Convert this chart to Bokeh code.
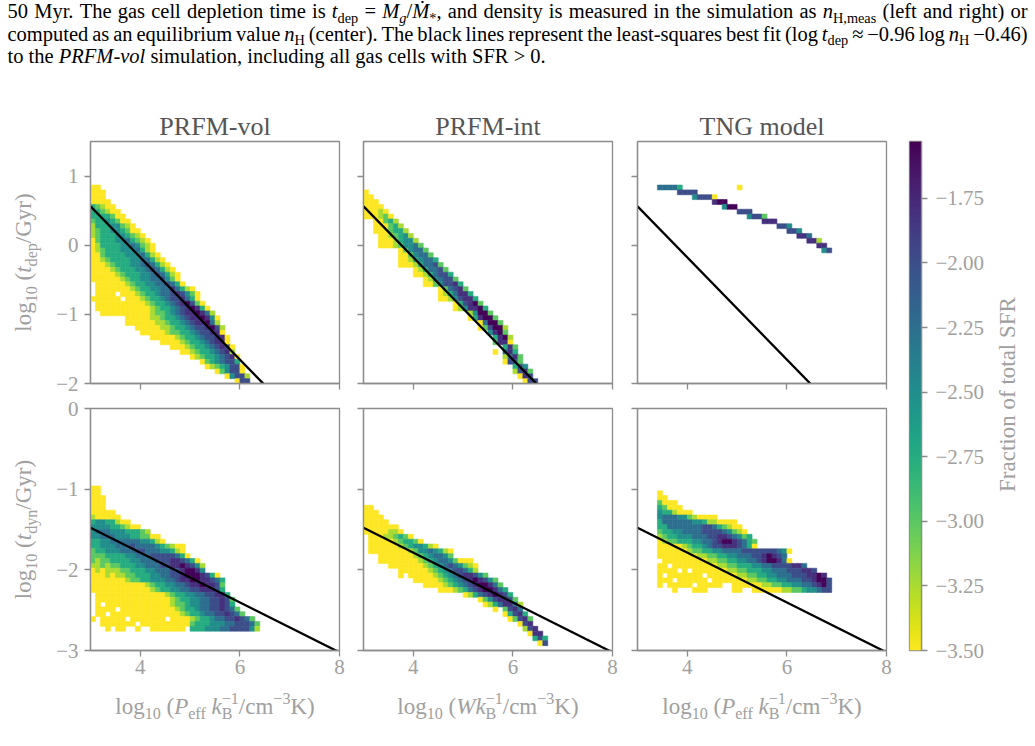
import os
import glob
import subprocess

import numpy as np
from bokeh.plotting import figure
from bokeh.layouts import row, column
from bokeh.models import Range1d, FixedTicker, ColumnDataSource, LinearColorMapper
from bokeh.palettes import Viridis256
from bokeh.core.properties import value
from bokeh.embed import file_html
from bokeh.resources import INLINE

# ---------------------------------------------------------------- data
X_RANGE = (3.0, 8.0)
TDEP_RANGE = (-2.0, 1.5)
TDYN_RANGE = (-3.0, 0.0)
N_BINS = 50

X_TICKS = [4, 6, 8]
X_TICK_LABELS = ["4", "6", "8"]
TDEP_TICKS = [-2, -1, 0, 1]
TDEP_TICK_LABELS = ["\u22122", "\u22121", "0", "1"]
TDYN_TICKS = [-3, -2, -1, 0]
TDYN_TICK_LABELS = ["\u22123", "\u22122", "\u22121", "0"]
CBAR_TICKS = [-3.5, -3.25, -3.0, -2.75, -2.5, -2.25, -2.0, -1.75]
CBAR_TICK_LABELS = ["\u22123.50", "\u22123.25", "\u22123.00", "\u22122.75",
                    "\u22122.50", "\u22122.25", "\u22122.00", "\u22121.75"]
SFR_LOW, SFR_HIGH = -3.5, -1.53

PANEL_TITLES = ["PRFM-vol", "PRFM-int", "TNG model"]

# log10 of the SFR fraction for each level code used in the histogram rows
LEVEL_VALUES = {"0": -3.5, "1": -3.25, "2": -3.0, "3": -2.75, "4": -2.5,
                "5": -2.25, "6": -2.0, "7": -1.8, "8": -1.55}

# least-squares fit lines: (slope, intercept)
FIT_TDEP = (-0.739, 2.78)
FIT_TDYN = (-0.309, -0.551)

# 2D histograms: (row from top, first column, level codes; '.' = empty bin)
HIST_VOL_TDEP = [
    (9, 0, "00"), (10, 0, "000"), (11, 0, "000"), (12, 0, "0000"),
    (13, 0, "32100"), (14, 0, "332100"), (15, 0, "3333200"),
    (16, 0, "23343200"), (17, 0, "133344210"), (18, 0, "1233443200"),
    (19, 0, "12333443210"), (20, 0, "023334453210"),
    (21, 0, "0133334454210"), (22, 0, "0123334445310"),
    (23, 0, "00233334445310"), (24, 0, "001233334455310"),
    (25, 0, "0001233344565310"), (26, 0, "00001233344565310"),
    (27, 0, "000001233344565310"), (28, 0, "000000123344556420"),
    (29, 1, "000000123344556530"), (30, 1, "00000001233445575310"),
    (31, 1, "0000.0001233455676420"), (32, 0, "000000.000123345667530"),
    (33, 1, "0000000000123345678620"), (34, 1, "00000000000123345678730"),
    (35, 2, "00000000001223456778751"), (36, 7, "0000011233456778740"),
    (37, 7, "0000001123345677851"), (38, 9, "000001123345667861"),
    (39, 10, "00000122334566770"), (40, 12, "0000012334566770"),
    (41, 14, "00001233456770"), (42, 16, "0001233456760"),
    (43, 18, "00123345671"), (44, 20, "0123345670"),
    (45, 22, "02345663"), (46, 23, "01234660"), (47, 25, "024660"),
    (48, 27, "04661"), (49, 29, "066"),
]

HIST_INT_TDEP = [
    (10, 0, "0"), (11, 0, "00"), (12, 0, "000"), (13, 0, "0000"),
    (14, 0, "00010"), (15, 0, "000120"), (16, 2, "00231"),
    (17, 2, "000231"), (18, 2, "0002331"), (19, 3, "0012341"),
    (20, 3, "00013441"), (21, 3, "000124452"), (22, 7, "024552"),
    (23, 7, "0024552"), (24, 7, "00134553"), (25, 7, "000135562"),
    (26, 10, "0135562"), (27, 10, "00135663"), (28, 12, "0145662"),
    (29, 12, "00246673"), (30, 15, "025672"), (31, 15, "0135773"),
    (32, 15, "00146773"), (33, 18, "036782"), (34, 18, "0147783"),
    (35, 21, "14882"), (36, 21, "037882"), (37, 23, "05882"),
    (38, 23, "026881"), (39, 25, "4782"), (40, 26, "3781"),
    (41, 26, "2770"), (42, 28, "372"), (43, 26, "0.573"),
    (44, 28, "1572"), (45, 28, "0662"), (46, 30, "364"),
    (47, 30, "1672"), (48, 31, "076"), (49, 32, "066"),
]

HIST_TNG_TDEP = [
    (9, 4, "55553"), (9, 20, "0"), (10, 8, "6666"), (11, 11, "46660"),
    (12, 15, "788"), (13, 17, "488"), (14, 20, "666"), (15, 22, "4662"),
    (16, 25, "777"), (17, 28, "664"), (18, 30, "664"), (19, 32, "775"),
    (20, 34, "771"), (21, 36, "77"), (22, 37, "46"),
]

HIST_VOL_TDYN = [
    (16, 0, "00"), (17, 0, "00"), (18, 0, "000"), (19, 0, "000"),
    (20, 0, "000"), (21, 0, "00000"), (22, 0, "100000"),
    (23, 0, "34433100"), (24, 0, "4444332100"), (25, 0, "455544433321"),
    (26, 0, "44555444332200"), (27, 0, "334455555544310"),
    (28, 0, "3344455565555432100"), (29, 0, "2334445556655544310"),
    (30, 0, "22233334455566666530"), (31, 0, "2122333344555666776530"),
    (32, 0, "11212233344555667787641"), (33, 0, "01011122333445556678874"),
    (34, 0, "00010112233344556678887630"),
    (35, 0, "000000012233444556778877653"),
    (36, 0, "000000000001233445567787762"),
    (37, 0, "000000000000123344556677763"),
    (38, 1, "000000000000001233445566773"),
    (39, 1, "0000000000000001233445566762"),
    (40, 1, "0.00000000000001223445566763"),
    (41, 1, "0000.000000000001233455667652"),
    (42, 1, "00.000000000000001233455667652"),
    (43, 0, "0.00000.0000000.00001233455667652"),
    (44, 2, "0000000.000000000023334445566652"),
    (45, 3, "0.00..0..0000000.33344455666641"),
]

HIST_INT_TDYN = [
    (20, 0, "00"), (21, 0, "000"), (22, 0, "0000"), (23, 0, "00000"),
    (24, 0, "0000000"), (25, 0, "00000110"), (26, 1, "000112320"),
    (27, 1, "00000123320"), (28, 1, "00000012344310"),
    (29, 1, "00000000124454310"), (30, 3, "000000012345542"),
    (31, 3, "0000000012345542000"), (32, 5, "000000012345654210"),
    (33, 7, "0000001234566531"), (34, 7, "0.0000012345677642"),
    (35, 10, "00000123456787642"), (36, 12, "0000123456788752"),
    (37, 15, "00012356788753"), (38, 20, "0135678763"),
    (39, 23, "02467762"), (40, 24, "01357751"), (41, 26, "0.2675"),
    (42, 28, "03673"), (43, 29, "02672"), (44, 31, "067"),
    (45, 32, "167"), (46, 33, "077"), (47, 34, "363"), (48, 35, "06"),
]

HIST_TNG_TDYN = [
    (17, 4, "0"), (18, 4, "00"), (19, 4, "2000"), (20, 4, "32000"),
    (21, 4, "4331000"), (22, 4, "455544210000"),
    (23, 4, "3555555443110000"), (24, 4, "33555555566532100"),
    (25, 4, "233445555666654210"), (26, 4, "1233444555667765423"),
    (27, 4, "01223334455678876532"), (28, 4, "00000123345667776530"),
    (29, 4, "000000122334455556666666540"),
    (30, 4, "00000000112233445556678765"),
    (31, 4, ".00000000011223344556788750"),
    (32, 4, "00.000000000112233344556666775"),
    (33, 4, "0000.0.0000000112233344555666776"),
    (34, 4, "0.0000000.000000112233445556667787"),
    (35, 4, "000.000000.000000011223344555667886"),
    (36, 4, "0.00000.00000..00000011223344556786"),
    (37, 4, "...0...000.....00..0000001122344566"),
]

# ---------------------------------------------------------------- style
FONT = "Liberation Serif"
SPINE = "#8c8c8c"
TICK_TEXT = "#a0a0a0"
TITLE_TEXT = "#555555"
TICK_FONT = "21px"
LABEL_SIZE = 23
CBAR_LABEL_SIZE = 23
CAP_SIZE = 20.5
# horizontal glyphs use an alphabetic baseline that sits a little low: lift (em)
BASELINE_LIFT = 0.27
# rotated glyphs are centred; centre of the em box above the baseline (em)
MIDDLE_ABOVE_BASE = 0.33

# page geometry (px)
PAGE_W = 1035
CAPTION_H = 70
MID_H = 620
XLAB_H = 56
YLAB_W = 45
FRAME_W, FRAME_H = 249, 242
TOP_H = (71, 12)
BOT_H = (13, 40)
COLS = [(YLAB_W, 12), (12, 13), (12, 12)]
FRAMES_TOP = CAPTION_H + TOP_H[0]          # page y of the upper frame edge
FRAMES_BOTTOM = CAPTION_H + MID_H - BOT_H[1]  # page y of the lower frame edge

# ---------------------------------------------------------------- text measuring
_font_cache = {}


def _font_file(italic):
    name = "LiberationSerif-Italic.ttf" if italic else "LiberationSerif-Regular.ttf"
    try:
        spec = "Liberation Serif:" + ("italic" if italic else "regular")
        out = subprocess.run(["fc-match", "-f", "%{file}", spec],
                             capture_output=True, text=True, timeout=10).stdout.strip()
        if out and os.path.exists(out) and "Liberation" in out:
            return out
    except Exception:
        pass
    hits = glob.glob("/usr/share/fonts/**/" + name, recursive=True)
    return hits[0] if hits else None


def text_width(text, size, italic=False):
    if italic not in _font_cache:
        font = None
        try:
            from PIL import ImageFont
            path = _font_file(italic)
            if path:
                font = ImageFont.truetype(path, 200)
        except Exception:
            font = None
        _font_cache[italic] = font
    font = _font_cache[italic]
    if font is None:
        return 0.42 * size * len(text)
    return font.getlength(text) * size / 200.0


SCRIPT_SCALE = 0.7


def run_metrics(kind, size):
    """font size, italic flag and baseline shift (up positive) of a run kind."""
    if kind == "r":
        return size, False, 0.0
    if kind == "i":
        return size, True, 0.0
    if kind == "sr":
        return size * SCRIPT_SCALE, False, -0.22 * size
    if kind == "si":
        return size * SCRIPT_SCALE, True, -0.22 * size
    if kind == "pr":
        return size * SCRIPT_SCALE, False, 0.40 * size
    raise ValueError(kind)


def tokens_of(runs, size):
    """(text, kind, width, is_space) tokens, one per word or space."""
    toks = []
    for run in runs:
        if run[1] == "stack":
            sub, sup = run[0]
            w = max(text_width(sub, size * SCRIPT_SCALE), text_width(sup, size * SCRIPT_SCALE))
            toks.append(((sub, sup), "stack", w, False))
            continue
        text, kind = run
        fs, it, _ = run_metrics(kind, size)
        parts = text.split(" ")
        for k, part in enumerate(parts):
            if k > 0:
                toks.append((" ", kind, text_width(" ", fs, it), True))
            if part:
                toks.append((part, kind, text_width(part, fs, it), False))
    return toks


def place_runs(runs, size, start, base, rotated=False, justify=None, center=False):
    """Glyph rows (x, y, text, size, style) for a line of rich text.

    Horizontal text advances in +x from (start, base) and is anchored on its
    baseline; rotated text reads bottom-to-top along x = base and each word
    is anchored on its centre.
    """
    toks = tokens_of(runs, size)
    natural = sum(t[2] for t in toks)
    extra = 0.0
    if justify is not None:
        n_sp = sum(1 for t in toks if t[3])
        if n_sp:
            extra = (justify - natural) / n_sp
    if center:
        start = start - natural / 2.0
    out = []
    pos = start
    for text, kind, w, is_space in toks:
        if is_space:
            pos += w + extra
            continue
        if kind == "stack":
            sub, sup = text
            for t, k in ((sub, "sr"), (sup, "pr")):
                fs, it, sh = run_metrics(k, size)
                wt = text_width(t, fs, it)
                out.append(_glyph(pos, wt, sh, base, rotated, t, fs, it))
        else:
            fs, it, sh = run_metrics(kind, size)
            out.append(_glyph(pos, w, sh, base, rotated, text, fs, it))
        pos += w
    return out


def _glyph(pos, width, shift, base, rotated, text, fs, italic):
    style = "italic" if italic else "normal"
    if rotated:
        return (base - shift - MIDDLE_ABOVE_BASE * fs, pos + width / 2.0,
                text, "%.1fpx" % fs, style)
    return (pos, base + shift + BASELINE_LIFT * fs, text, "%.1fpx" % fs, style)


def text_figure(w, h, top=0, bottom=0):
    """Blank figure whose frame uses pixel units (y measured up from the frame bottom)."""
    fh = h - top - bottom
    p = figure(width=w, height=h, x_range=Range1d(0, w), y_range=Range1d(0, fh),
               output_backend="svg", toolbar_location=None, title=None,
               x_axis_location=None, y_axis_location=None, min_border=0,
               min_border_top=top, min_border_bottom=bottom)
    p.grid.visible = False
    p.outline_line_color = None
    p.background_fill_color = "white"
    p.border_fill_color = "white"
    return p


def draw_glyphs(p, glyphs, color, rotated=False):
    xs, ys, ts, ss, st = zip(*glyphs)
    src = ColumnDataSource(dict(x=list(xs), y=list(ys), text=list(ts),
                                size=list(ss), style=list(st)))
    if rotated:
        p.text(x="x", y="y", text="text", source=src, angle=np.pi / 2,
               text_font=value(FONT), text_font_size={"field": "size"},
               text_font_style={"field": "style"}, text_color=color,
               text_align="center", text_baseline="middle")
    else:
        p.text(x="x", y="y", text="text", source=src,
               text_font=value(FONT), text_font_size={"field": "size"},
               text_font_style={"field": "style"}, text_color=color,
               text_align="left", text_baseline="alphabetic")


# ---------------------------------------------------------------- panels
cmap = LinearColorMapper(palette=list(reversed(Viridis256)), low=SFR_LOW, high=SFR_HIGH)


def hist_cells(rows, y_range):
    xe = np.linspace(X_RANGE[0], X_RANGE[1], N_BINS + 1)
    ye = np.linspace(y_range[1], y_range[0], N_BINS + 1)
    cols = dict(left=[], right=[], top=[], bottom=[], val=[])
    for r, c0, codes in rows:
        for k, ch in enumerate(codes):
            if ch == ".":
                continue
            c = c0 + k
            cols["left"].append(xe[c])
            cols["right"].append(xe[c + 1])
            cols["top"].append(ye[r])
            cols["bottom"].append(ye[r + 1])
            cols["val"].append(LEVEL_VALUES[ch])
    return cols


def style_axis(ax, ticks, labels, show_labels, standoff):
    ax.ticker = FixedTicker(ticks=ticks)
    ax.axis_line_color = SPINE
    ax.axis_line_width = 1.3
    ax.major_tick_line_color = SPINE
    ax.major_tick_line_width = 1.3
    ax.major_tick_out = 6
    ax.major_tick_in = 0
    ax.minor_tick_line_color = None
    ax.major_label_text_font = FONT
    ax.major_label_text_color = TICK_TEXT
    if show_labels:
        ax.major_label_overrides = {float(t): lab for t, lab in zip(ticks, labels)}
        ax.major_label_text_font_size = TICK_FONT
        ax.major_label_standoff = standoff
    else:
        # shared axes: tick marks only
        ax.major_label_overrides = {float(t): "" for t in ticks}
        ax.major_label_text_font_size = "0px"
        ax.major_label_standoff = 0


def panel(rows, y_range, y_ticks, y_labels, fit, borders, title=None,
          show_x=False, show_y=False):
    bl, br, bt, bb = borders
    p = figure(width=bl + FRAME_W + br, height=bt + FRAME_H + bb,
               x_range=Range1d(*X_RANGE), y_range=Range1d(*y_range),
               output_backend="svg", toolbar_location=None, title=title,
               min_border_left=bl, min_border_right=br,
               min_border_top=bt, min_border_bottom=bb)
    p.grid.visible = False
    p.outline_line_color = SPINE
    p.outline_line_width = 1.3
    p.background_fill_color = "white"
    p.border_fill_color = "white"
    style_axis(p.xaxis[0], X_TICKS, X_TICK_LABELS, show_x, 3)
    style_axis(p.yaxis[0], y_ticks, y_labels, show_y, 6)
    if title:
        p.title.align = "center"
        p.title.text_font = FONT
        p.title.text_font_size = "26px"
        p.title.text_font_style = "normal"
        p.title.text_color = TITLE_TEXT
        p.title.standoff = 2

    src = ColumnDataSource(hist_cells(rows, y_range))
    mapped = {"field": "val", "transform": cmap}
    p.quad(left="left", right="right", top="top", bottom="bottom", source=src,
           fill_color=mapped, line_color=mapped, line_width=0.6)

    slope, intercept = fit
    xs = np.array(X_RANGE)
    p.line(xs, slope * xs + intercept, line_color="black", line_width=2.3)
    return p


top_rows = [HIST_VOL_TDEP, HIST_INT_TDEP, HIST_TNG_TDEP]
bot_rows = [HIST_VOL_TDYN, HIST_INT_TDYN, HIST_TNG_TDYN]

top_figs, bot_figs = [], []
for i in range(3):
    bl, br = COLS[i]
    top_figs.append(panel(top_rows[i], TDEP_RANGE, TDEP_TICKS, TDEP_TICK_LABELS, FIT_TDEP,
                          (bl, br) + TOP_H, title=PANEL_TITLES[i],
                          show_x=False, show_y=(i == 0)))
    bot_figs.append(panel(bot_rows[i], TDYN_RANGE, TDYN_TICKS, TDYN_TICK_LABELS, FIT_TDYN,
                          (bl, br) + BOT_H, show_x=True, show_y=(i == 0)))

# ---------------------------------------------------------------- colour bar
CB_LEFT, CB_W, CB_RIGHT = 11, 12, 70
cb = figure(width=CB_LEFT + CB_W + CB_RIGHT, height=MID_H,
            x_range=Range1d(0, 1), y_range=Range1d(SFR_LOW, SFR_HIGH),
            output_backend="svg", toolbar_location=None, title=None,
            x_axis_location=None, y_axis_location="right",
            min_border_left=CB_LEFT, min_border_right=CB_RIGHT,
            min_border_top=TOP_H[0], min_border_bottom=BOT_H[1])
cb.grid.visible = False
cb.outline_line_color = SPINE
cb.outline_line_width = 1.3
cb.border_fill_color = "white"
gradient = np.linspace(SFR_LOW, SFR_HIGH, 256).reshape(-1, 1)
cb.image(image=[gradient], x=0, y=SFR_LOW, dw=1, dh=SFR_HIGH - SFR_LOW, color_mapper=cmap)
style_axis(cb.yaxis[0], CBAR_TICKS, CBAR_TICK_LABELS, True, 8)

used_w = YLAB_W + sum(FRAME_W + a + b for a, b in COLS) + CB_LEFT + CB_W + CB_RIGHT
CBLAB_X0 = used_w
CBLAB_W = PAGE_W - used_w

# side label figures share the panels' frame insets, so work in page y there
cblab = text_figure(CBLAB_W, MID_H, top=TOP_H[0], bottom=BOT_H[1])
draw_glyphs(cblab, place_runs([("Fraction of total SFR", "r")], CBAR_LABEL_SIZE,
                              FRAMES_BOTTOM - 394.0, 1015 - CBLAB_X0,
                              rotated=True, center=True), TICK_TEXT, rotated=True)

# ---------------------------------------------------------------- axis labels
ylab = text_figure(YLAB_W, MID_H, top=TOP_H[0], bottom=BOT_H[1])
for name, center in (("dep", 262.0), ("dyn", 529.0)):
    runs = [("log", "r"), ("10", "sr"), (" (", "r"), ("t", "i"), (name, "sr"), ("/Gyr)", "r")]
    draw_glyphs(ylab, place_runs(runs, LABEL_SIZE, FRAMES_BOTTOM - center, 31,
                                 rotated=True, center=True), TICK_TEXT, rotated=True)

xlab = text_figure(PAGE_W, XLAB_H)
x_label_runs = [
    [("log", "r"), ("10", "sr"), (" (", "r"), ("P", "i"), ("eff", "sr"), (" ", "r"),
     ("k", "i"), (("B", "\u22121"), "stack"), ("/cm", "r"), ("\u22123", "pr"), ("K)", "r")],
    [("log", "r"), ("10", "sr"), (" (", "r"), ("W", "i"),
     ("k", "i"), (("B", "\u22121"), "stack"), ("/cm", "r"), ("\u22123", "pr"), ("K)", "r")],
    [("log", "r"), ("10", "sr"), (" (", "r"), ("P", "i"), ("eff", "sr"), (" ", "r"),
     ("k", "i"), (("B", "\u22121"), "stack"), ("/cm", "r"), ("\u22123", "pr"), ("K)", "r")],
]
frame_centers = [214.5, 487.5, 761.5]
for runs, cx in zip(x_label_runs, frame_centers):
    draw_glyphs(xlab, place_runs(runs, LABEL_SIZE, cx, XLAB_H - (712 - CAPTION_H - MID_H),
                                 center=True), TICK_TEXT)

# ---------------------------------------------------------------- caption
caption = text_figure(PAGE_W, CAPTION_H)
cap_lines = [
    ([("50 Myr. The gas cell depletion time is ", "r"), ("t", "i"), ("dep", "sr"),
      (" = ", "r"), ("M", "i"), ("g", "si"), ("/", "r"), ("\u1e40", "i"), ("*", "sr"),
      (", and density is measured in the simulation as ", "r"), ("n", "i"),
      ("H,meas", "sr"), (" (left and right) or", "r")], 16.5, True),
    ([("computed as an equilibrium value ", "r"), ("n", "i"), ("H", "sr"),
      (" (center). The black lines represent the least-squares best fit (log ", "r"),
      ("t", "i"), ("dep", "sr"), (" \u2248 \u22120.96 log ", "r"), ("n", "i"), ("H", "sr"),
      (" \u22120.46)", "r")], 39.0, True),
    ([("to the ", "r"), ("PRFM-vol", "i"),
      (" simulation, including all gas cells with SFR > 0.", "r")], 61.5, False),
]
for runs, base, just in cap_lines:
    draw_glyphs(caption, place_runs(runs, CAP_SIZE, 7, CAPTION_H - base,
                                    justify=1020 if just else None), "black")

# ---------------------------------------------------------------- layout
grid = column(row(*top_figs), row(*bot_figs))
layout = column(caption, row(ylab, grid, cb, cblab), xlab)

open("out.html", "w").write(file_html(layout, INLINE))
